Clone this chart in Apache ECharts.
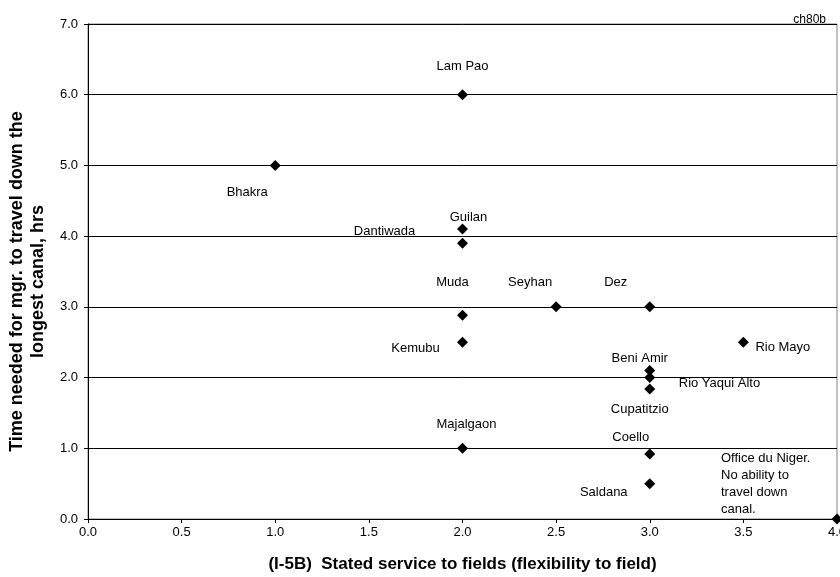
<!DOCTYPE html>
<html>
<head>
<meta charset="utf-8">
<script src="https://cdn.jsdelivr.net/npm/echarts@6/dist/echarts.min.js"></script>
<style>html,body{margin:0;padding:0;background:#fff}#c{width:840px;height:577px}</style>
</head>
<body>
<div id="c"></div>
<script>
const names = ["Lam Pao","Bhakra","Guilan","Dantiwada","Muda","Seyhan","Dez","Kemubu","Rio Mayo","Beni Amir","Rio Yaqui Alto","Cupatitzio","Majalgaon","Coello","Saldana","Office du Niger.\nNo ability to\ntravel down\ncanal."];
const xValues = [2, 1, 2, 2, 2, 2.5, 3, 2, 3.5, 3, 3, 3, 2, 3, 3, 4];
const yValues = [6.0, 5.0, 4.1, 3.9, 2.88, 3.0, 3.0, 2.5, 2.5, 2.1, 2.0, 1.84, 1.0, 0.92, 0.5, 0.0];
const xTicks = ["0.0","0.5","1.0","1.5","2.0","2.5","3.0","3.5","4.0"];
const yTicks = ["0.0","1.0","2.0","3.0","4.0","5.0","6.0","7.0"];

// label placement (style only)
const labelLayout = [
  {offset:[0,-28], align:'center'},
  {offset:[-28,27], align:'center'},
  {offset:[6,-12], align:'center'},
  {offset:[-78,-12], align:'center'},
  {offset:[-10,-33], align:'center'},
  {offset:[-26,-24], align:'center'},
  {offset:[-34,-24], align:'center'},
  {offset:[-47,6], align:'center'},
  {offset:[12,5], align:'left'},
  {offset:[-10,-12], align:'center'},
  {offset:[29,6], align:'left'},
  {offset:[-10,21], align:'center'},
  {offset:[4,-24], align:'center'},
  {offset:[-19,-17], align:'center'},
  {offset:[-46,9], align:'center'},
  {offset:[-116,-35], align:'left'}
];

const FONT = 'Liberation Sans, Arial, sans-serif';
const data = names.map((n,i)=>({
  name:n,
  value:[xValues[i], yValues[i]],
  label:{show:true, position:'inside', formatter:n, offset:labelLayout[i].offset, align:labelLayout[i].align,
         color:'#000', fontSize:13, fontFamily:FONT, lineHeight:17}
}));

const chart = echarts.init(document.getElementById('c'), null, {renderer:'canvas'});
chart.setOption({
  animation:false,
  backgroundColor:'#fff',
  title:{text:'ch80b', right:9, top:9, textStyle:{fontSize:12, fontWeight:'normal', color:'#000', fontFamily:FONT}},
  grid:{left:88, right:3, top:24, bottom:58, outerBoundsMode:'none', containLabel:false, show:true, borderColor:'#808080', borderWidth:1},
  xAxis:{
    type:'value', min:0, max:4, interval:0.5,
    name:'(I-5B)  Stated service to fields (flexibility to field)',
    nameLocation:'middle', nameGap:37,
    nameTextStyle:{fontSize:17, fontWeight:'bold', color:'#000', fontFamily:FONT},
    axisLine:{show:true, onZero:false, lineStyle:{color:'#000', width:1}},
    axisTick:{show:true, inside:false, length:4, lineStyle:{color:'#000'}},
    axisLabel:{color:'#000', fontSize:13, margin:7, fontFamily:FONT,
      formatter:(v)=>xTicks[Math.round(v/0.5)]},
    splitLine:{show:false}
  },
  yAxis:{
    type:'value', min:0, max:7, interval:1,
    name:'Time needed for mgr. to travel down the\nlongest canal, hrs',
    nameLocation:'middle', nameGap:38,
    nameTextStyle:{fontSize:18, fontWeight:'bold', color:'#000', lineHeight:21, fontFamily:FONT, padding:[0,20,0,0]},
    axisLine:{show:true, onZero:false, lineStyle:{color:'#000', width:1}},
    axisTick:{show:true, inside:false, length:4, lineStyle:{color:'#000'}},
    axisLabel:{color:'#000', fontSize:13, margin:10, fontFamily:FONT,
      formatter:(v)=>yTicks[Math.round(v)]},
    splitLine:{show:true, lineStyle:{color:'#000', width:1}}
  },
  series:[{
    type:'scatter',
    symbol:'diamond',
    symbolSize:11,
    itemStyle:{color:'#000', opacity:1},
    data:data,
    clip:false
  }]
});
</script>
</body>
</html>
